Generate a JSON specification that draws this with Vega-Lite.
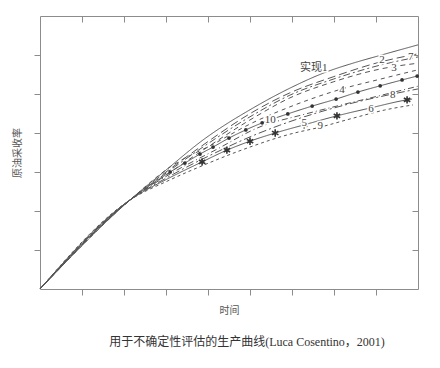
{
  "$schema": "https://vega.github.io/schema/vega-lite/v6.json",
  "width": 378,
  "height": 273,
  "autosize": {"type": "none"},
  "padding": {"left": 40, "top": 16, "right": 22, "bottom": 79},
  "background": "white",
  "config": {
    "view": {"stroke": null},
    "axis": {"domainColor": "#8c8c8c", "tickColor": "#8c8c8c", "grid": false, "labels": false, "titleFont": "Noto Sans CJK SC", "titleFontWeight": "normal", "titleFontSize": 10, "titleColor": "#555"}
  },
  "title": {"text": "用于不确定性评估的生产曲线(Luca Cosentino，2001)", "orient": "bottom", "anchor": "middle", "font": "Liberation Serif, Noto Sans CJK SC", "fontSize": 12, "fontWeight": "normal", "color": "#333", "offset": 21, "dx": 18},
  "datasets": {
    "curves": [
      {"curve": "1", "t": 0, "r": 0}, {"curve": "1", "t": 2.14, "r": 2.28}, {"curve": "1", "t": 3.0, "r": 3.05}, {"curve": "1", "t": 3.88, "r": 3.82}, {"curve": "1", "t": 5.07, "r": 4.64}, {"curve": "1", "t": 5.95, "r": 5.15}, {"curve": "1", "t": 6.83, "r": 5.57}, {"curve": "1", "t": 7.45, "r": 5.79}, {"curve": "1", "t": 8.1, "r": 5.99}, {"curve": "1", "t": 9.0, "r": 6.26},
      {"curve": "2", "t": 0, "r": 0}, {"curve": "2", "t": 2.14, "r": 2.28}, {"curve": "2", "t": 3.0, "r": 3.0}, {"curve": "2", "t": 3.88, "r": 3.69}, {"curve": "2", "t": 5.07, "r": 4.54}, {"curve": "2", "t": 5.95, "r": 5.03}, {"curve": "2", "t": 6.98, "r": 5.44}, {"curve": "2", "t": 8.1, "r": 5.82}, {"curve": "2", "t": 9.0, "r": 6.03},
      {"curve": "7", "t": 0, "r": 0}, {"curve": "7", "t": 2.14, "r": 2.28}, {"curve": "7", "t": 3.0, "r": 2.97}, {"curve": "7", "t": 3.88, "r": 3.64}, {"curve": "7", "t": 5.07, "r": 4.46}, {"curve": "7", "t": 5.95, "r": 4.97}, {"curve": "7", "t": 6.98, "r": 5.38}, {"curve": "7", "t": 8.1, "r": 5.74}, {"curve": "7", "t": 9.0, "r": 5.95},
      {"curve": "3", "t": 0, "r": 0}, {"curve": "3", "t": 2.14, "r": 2.28}, {"curve": "3", "t": 3.0, "r": 2.92}, {"curve": "3", "t": 3.88, "r": 3.56}, {"curve": "3", "t": 5.07, "r": 4.38}, {"curve": "3", "t": 5.95, "r": 4.9}, {"curve": "3", "t": 6.98, "r": 5.31}, {"curve": "3", "t": 8.1, "r": 5.64}, {"curve": "3", "t": 9.0, "r": 5.79},
      {"curve": "4", "t": 0, "r": 0}, {"curve": "4", "t": 2.14, "r": 2.28}, {"curve": "4", "t": 3.1, "r": 3.13}, {"curve": "4", "t": 4.17, "r": 3.74}, {"curve": "4", "t": 5.0, "r": 4.23}, {"curve": "4", "t": 5.88, "r": 4.64}, {"curve": "4", "t": 7.19, "r": 5.13}, {"curve": "4", "t": 8.1, "r": 5.38}, {"curve": "4", "t": 9.0, "r": 5.62},
      {"curve": "5", "t": 0, "r": 0}, {"curve": "5", "t": 2.14, "r": 2.28}, {"curve": "5", "t": 3.1, "r": 3.0}, {"curve": "5", "t": 3.45, "r": 3.23}, {"curve": "5", "t": 3.81, "r": 3.46}, {"curve": "5", "t": 4.12, "r": 3.64}, {"curve": "5", "t": 4.5, "r": 3.87}, {"curve": "5", "t": 4.9, "r": 4.08}, {"curve": "5", "t": 5.29, "r": 4.26}, {"curve": "5", "t": 5.9, "r": 4.49}, {"curve": "5", "t": 6.48, "r": 4.69}, {"curve": "5", "t": 7.05, "r": 4.87}, {"curve": "5", "t": 7.57, "r": 5.05}, {"curve": "5", "t": 8.1, "r": 5.21}, {"curve": "5", "t": 8.62, "r": 5.36}, {"curve": "5", "t": 8.98, "r": 5.46},
      {"curve": "10", "t": 0, "r": 0}, {"curve": "10", "t": 2.14, "r": 2.28}, {"curve": "10", "t": 3.1, "r": 2.95}, {"curve": "10", "t": 4.17, "r": 3.56}, {"curve": "10", "t": 5.29, "r": 4.18}, {"curve": "10", "t": 6.19, "r": 4.45}, {"curve": "10", "t": 7.14, "r": 4.71}, {"curve": "10", "t": 8.1, "r": 4.96}, {"curve": "10", "t": 9.0, "r": 5.2},
      {"curve": "8", "t": 0, "r": 0}, {"curve": "8", "t": 2.14, "r": 2.28}, {"curve": "8", "t": 3.1, "r": 2.9}, {"curve": "8", "t": 4.17, "r": 3.49}, {"curve": "8", "t": 5.0, "r": 3.9}, {"curve": "8", "t": 5.71, "r": 4.2}, {"curve": "8", "t": 7.45, "r": 4.77}, {"curve": "8", "t": 8.4, "r": 5.0}, {"curve": "8", "t": 9.0, "r": 5.13},
      {"curve": "6", "t": 0, "r": 0}, {"curve": "6", "t": 2.14, "r": 2.28}, {"curve": "6", "t": 3.1, "r": 2.86}, {"curve": "6", "t": 3.86, "r": 3.26}, {"curve": "6", "t": 4.45, "r": 3.56}, {"curve": "6", "t": 5.0, "r": 3.79}, {"curve": "6", "t": 5.6, "r": 4.0}, {"curve": "6", "t": 6.29, "r": 4.21}, {"curve": "6", "t": 7.07, "r": 4.44}, {"curve": "6", "t": 7.86, "r": 4.64}, {"curve": "6", "t": 8.74, "r": 4.85}, {"curve": "6", "t": 8.86, "r": 4.87},
      {"curve": "9", "t": 0, "r": 0}, {"curve": "9", "t": 2.14, "r": 2.28}, {"curve": "9", "t": 3.1, "r": 2.8}, {"curve": "9", "t": 3.86, "r": 3.16}, {"curve": "9", "t": 5.0, "r": 3.64}, {"curve": "9", "t": 5.95, "r": 3.97}, {"curve": "9", "t": 6.67, "r": 4.15}, {"curve": "9", "t": 7.45, "r": 4.38}, {"curve": "9", "t": 8.21, "r": 4.59}, {"curve": "9", "t": 8.88, "r": 4.72}
    ],
    "dots": [
      {"t": 3.1, "r": 3.0}, {"t": 3.45, "r": 3.23}, {"t": 3.81, "r": 3.46}, {"t": 4.12, "r": 3.64}, {"t": 4.5, "r": 3.87}, {"t": 4.9, "r": 4.08}, {"t": 5.29, "r": 4.26}, {"t": 5.9, "r": 4.49}, {"t": 6.48, "r": 4.69}, {"t": 7.05, "r": 4.87}, {"t": 7.57, "r": 5.05}, {"t": 8.1, "r": 5.21}, {"t": 8.62, "r": 5.36}, {"t": 8.98, "r": 5.46}
    ],
    "stars": [
      {"t": 3.86, "r": 3.26}, {"t": 4.45, "r": 3.56}, {"t": 5.0, "r": 3.79}, {"t": 5.6, "r": 4.0}, {"t": 6.29, "r": 4.21}, {"t": 7.07, "r": 4.44}, {"t": 8.74, "r": 4.85}
    ],
    "labels": [
      {"label": "实现1", "t": 6.52, "r": 5.67},
      {"label": "2", "t": 8.14, "r": 5.87},
      {"label": "3", "t": 8.43, "r": 5.67},
      {"label": "7", "t": 8.83, "r": 5.95},
      {"label": "4", "t": 7.19, "r": 5.1},
      {"label": "10", "t": 5.48, "r": 4.33},
      {"label": "5", "t": 6.29, "r": 4.26},
      {"label": "8", "t": 8.4, "r": 4.97},
      {"label": "6", "t": 7.88, "r": 4.62},
      {"label": "9", "t": 6.67, "r": 4.18}
    ]
  },
  "layer": [
    {
      "data": {"name": "curves"},
      "mark": {"type": "line", "interpolate": "monotone", "strokeWidth": 1, "color": "#555"},
      "encoding": {
        "x": {"field": "t", "type": "quantitative", "scale": {"domain": [0, 9], "nice": false, "zero": false}, "axis": {"orient": "bottom", "values": [1, 2, 3, 4, 5, 6, 7, 8], "tickSize": 6, "title": "时间", "titlePadding": 10}},
        "y": {"field": "r", "type": "quantitative", "scale": {"domain": [0, 7], "nice": false, "zero": false}, "axis": {"orient": "left", "values": [1, 2, 3, 4, 5, 6], "tickSize": 6, "title": "原油采收率", "titlePadding": 11}},
        "detail": {"field": "curve", "type": "nominal"},
        "strokeDash": {"field": "curve", "type": "nominal", "legend": null, "scale": {"domain": ["1", "2", "3", "4", "5", "6", "7", "8", "9", "10"], "range": [[1, 0], [8, 4], [5, 4], [4, 4], [1, 0], [1, 0], [7, 3, 2, 3], [8, 3, 2, 3], [3, 3], [6, 3, 1, 3]]}}
      }
    },
    {
      "data": {"name": "dots"},
      "mark": {"type": "point", "shape": "circle", "filled": true, "size": 14, "color": "#333", "opacity": 1},
      "encoding": {
        "x": {"field": "t", "type": "quantitative", "axis": null},
        "y": {"field": "r", "type": "quantitative", "axis": null}
      }
    },
    {
      "data": {"name": "stars"},
      "mark": {"type": "point", "shape": "M0,-1L0,1M-0.87,-0.5L0.87,0.5M-0.87,0.5L0.87,-0.5", "filled": false, "size": 55, "strokeWidth": 1.6, "color": "#333", "opacity": 1},
      "encoding": {
        "x": {"field": "t", "type": "quantitative", "axis": null},
        "y": {"field": "r", "type": "quantitative", "axis": null}
      }
    },
    {
      "data": {"name": "labels"},
      "mark": {"type": "text", "font": "Liberation Serif, Noto Sans CJK SC", "fontSize": 11, "color": "white", "stroke": "white", "strokeWidth": 3, "align": "center", "baseline": "middle"},
      "encoding": {
        "x": {"field": "t", "type": "quantitative", "axis": null},
        "y": {"field": "r", "type": "quantitative", "axis": null},
        "text": {"field": "label", "type": "nominal"}
      }
    },
    {
      "data": {"name": "labels"},
      "mark": {"type": "text", "font": "Liberation Serif, Noto Sans CJK SC", "fontSize": 11, "color": "#444", "align": "center", "baseline": "middle"},
      "encoding": {
        "x": {"field": "t", "type": "quantitative", "axis": null},
        "y": {"field": "r", "type": "quantitative", "axis": null},
        "text": {"field": "label", "type": "nominal"}
      }
    },
    {
      "data": {"name": "dots"},
      "mark": {"type": "point", "opacity": 0},
      "encoding": {
        "x": {"field": "t", "type": "quantitative", "axis": {"orient": "top", "values": [1, 2, 3, 4, 5, 6, 7, 8], "tickSize": -6, "title": null}},
        "y": {"field": "r", "type": "quantitative", "axis": {"orient": "right", "values": [1, 2, 3, 4, 5, 6], "tickSize": -6, "title": null}}
      }
    }
  ],
  "resolve": {"axis": {"x": "independent", "y": "independent"}}
}
